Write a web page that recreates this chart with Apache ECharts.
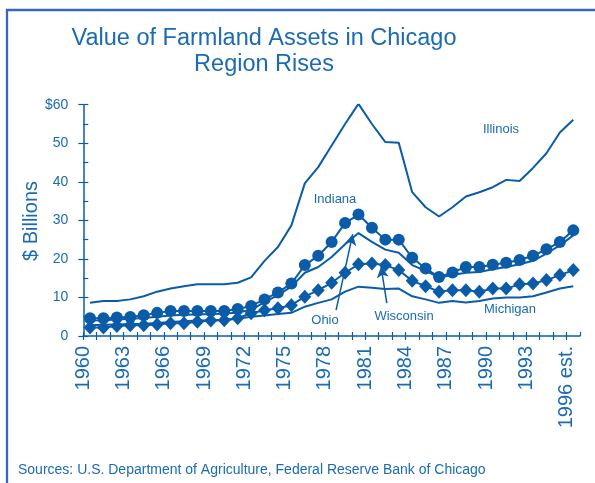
<!DOCTYPE html>
<html>
<head>
<meta charset="utf-8">
<script src="https://cdn.jsdelivr.net/npm/echarts@6/dist/echarts.min.js"></script>
<style>
  html, body { margin: 0; padding: 0; background: #fff; }
  #chart { width: 595px; height: 483px; }
</style>
</head>
<body>
<div id="chart"></div>
<script>
// years 1960 .. 1996 (1996 is an estimate)
const years = [];
for (let y = 1960; y <= 1996; y++) years.push(y);

// $ billions
const illinois = [8.6, 9.1, 9.1, 9.5, 10.3, 11.5, 12.3, 12.9, 13.4, 13.4, 13.4, 13.8, 15.2, 19.5, 23.1, 28.7, 39.6, 43.8, 49.4, 55.0, 60.2, 55.0, 50.3, 50.1, 37.3, 33.4, 31.0, 33.4, 36.2, 37.3, 38.6, 40.5, 40.2, 43.6, 47.4, 52.8, 56.1];
const indiana = [4.6, 4.6, 4.8, 4.9, 5.4, 6.0, 6.5, 6.5, 6.5, 6.5, 6.5, 7.0, 7.8, 9.5, 11.3, 13.6, 18.4, 20.8, 24.4, 29.3, 31.5, 28.1, 25.0, 25.0, 20.3, 17.5, 15.3, 16.5, 17.9, 17.9, 18.5, 19.0, 19.7, 20.8, 22.5, 24.4, 27.4];
const ohio = [4.0, 4.1, 4.3, 4.5, 4.7, 5.0, 5.3, 5.5, 5.6, 5.7, 5.8, 6.1, 6.8, 8.8, 10.6, 12.8, 16.4, 17.9, 20.5, 23.8, 26.7, 24.4, 22.4, 21.6, 18.4, 16.9, 15.2, 15.8, 16.4, 16.6, 17.3, 17.9, 18.6, 19.5, 21.4, 23.5, 26.1];
const wisconsin = [2.2, 2.2, 2.6, 2.8, 2.8, 3.0, 3.3, 3.3, 3.7, 4.0, 4.1, 4.6, 5.9, 6.7, 7.2, 8.0, 10.2, 11.9, 13.8, 16.4, 18.6, 18.8, 18.4, 17.1, 14.3, 12.9, 11.5, 11.9, 11.9, 11.5, 12.3, 12.3, 13.4, 13.6, 14.5, 15.8, 17.1];
const michigan = [2.8, 2.9, 3.0, 3.1, 3.2, 3.4, 3.6, 3.8, 4.0, 4.1, 4.2, 4.5, 5.0, 5.3, 5.7, 6.0, 7.6, 8.6, 9.5, 11.5, 12.8, 12.5, 12.2, 12.3, 10.3, 9.5, 8.6, 9.1, 8.7, 9.1, 9.7, 10.0, 10.0, 10.3, 11.3, 12.3, 12.9];

const yTicks = [0, 10, 20, 30, 40, 50, 60];
const labelEvery = 3;

const BLUE = '#0a5ca8';
const TEXT = '#1a6bb3';
const FONT = '"Liberation Sans", Arial, sans-serif';

// each year's point sits in the middle of its year band
const pts = arr => arr.map((v, i) => [years[i] + 0.5, v]);

const gridBox = { left: 83.3, right: 15, top: 104.7, bottom: 147 };

const chart = echarts.init(document.getElementById('chart'));
chart.setOption({
  animation: false,
  textStyle: { fontFamily: FONT },
  title: {
    text: 'Value of Farmland Assets in Chicago\nRegion Rises',
    left: 259,
    textAlign: 'center',
    top: 21,
    textStyle: { color: TEXT, fontSize: 23.5, fontWeight: 'normal', lineHeight: 26, fontFamily: FONT }
  },
  grid: [gridBox, gridBox],
  xAxis: [{
    type: 'value',
    gridIndex: 0,
    min: 1960,
    max: 1997,
    interval: 1,
    axisLine: { lineStyle: { color: BLUE, width: 1.5 } },
    axisTick: { length: 4, lineStyle: { color: BLUE, width: 1.2 } },
    splitLine: { show: false },
    axisLabel: {
      rotate: 90,
      margin: 10,
      color: TEXT,
      fontSize: 20,
      fontFamily: FONT,
      showMaxLabel: false,
      formatter: v => {
        if ((v - years[0]) % labelEvery !== 0) return '';
        return v === 1996 ? '1996 est.' : String(v);
      }
    }
  }, {
    type: 'value',
    gridIndex: 1,
    min: 1960,
    max: 1997,
    interval: 1,
    axisLine: { show: false },
    axisTick: { inside: true, length: 4, lineStyle: { color: BLUE, width: 1.2 } },
    axisLabel: { show: false },
    splitLine: { show: false }
  }],
  yAxis: [{
    type: 'value',
    gridIndex: 0,
    min: yTicks[0],
    max: yTicks[yTicks.length - 1],
    interval: 10,
    axisLine: { show: true, lineStyle: { color: BLUE, width: 1.5 } },
    axisTick: { show: true, length: 5, lineStyle: { color: BLUE, width: 1.2 } },
    splitLine: { show: false },
    axisLabel: {
      color: TEXT,
      fontSize: 14,
      margin: 15,
      fontFamily: FONT,
      formatter: v => v === 60 ? '$60' : String(v)
    }
  }, {
    type: 'value',
    gridIndex: 1,
    min: 0,
    max: 60,
    interval: 5,
    axisLine: { show: false },
    axisTick: { show: true, inside: true, length: 5, lineStyle: { color: BLUE, width: 1.2 } },
    axisLabel: { show: false },
    splitLine: { show: false }
  }],
  series: [
    {
      name: 'Illinois', type: 'line', data: pts(illinois),
      showSymbol: false, symbol: 'none',
      lineStyle: { color: BLUE, width: 2 }
    },
    {
      name: 'Michigan', type: 'line', data: pts(michigan),
      showSymbol: false, symbol: 'none',
      lineStyle: { color: BLUE, width: 2 }
    },
    {
      name: 'Ohio', type: 'line', data: pts(ohio),
      showSymbol: false, symbol: 'none',
      lineStyle: { color: BLUE, width: 2 }
    },
    {
      name: 'Indiana', type: 'line', data: pts(indiana),
      symbol: 'circle', symbolSize: 12,
      itemStyle: { color: BLUE },
      lineStyle: { color: BLUE, width: 2 }
    },
    {
      name: 'Wisconsin', type: 'line', data: pts(wisconsin),
      symbol: 'diamond', symbolSize: [13, 14],
      itemStyle: { color: BLUE },
      lineStyle: { color: BLUE, width: 2 },
      markLine: {
        silent: true,
        symbol: ['none', 'arrow'],
        symbolSize: [9, 11],
        label: { show: false },
        lineStyle: { color: BLUE, width: 1.5, type: 'solid' },
        data: [
          [{ coord: [1978.83, 6.7] }, { coord: [1980.07, 26.4] }],
          [{ coord: [1982.61, 8.5] }, { coord: [1982.18, 18.0] }]
        ]
      }
    }
  ],
  graphic: [
    {
      type: 'rect', silent: true, z: -1,
      shape: { x: 7, y: 10, width: 620, height: 500 },
      style: { fill: 'none', stroke: '#3768b8', lineWidth: 2.3 }
    },
    // y axis title
    { type: 'text', x: 31, y: 221, rotation: Math.PI / 2, style: { text: '$ Billions', fill: TEXT, font: '20px ' + FONT, textAlign: 'center', textVerticalAlign: 'middle' } },
    { type: 'text', x: 501, y: 129, style: { text: 'Illinois', fill: TEXT, font: '13px ' + FONT, textAlign: 'center', textVerticalAlign: 'middle' } },
    { type: 'text', x: 335, y: 199, style: { text: 'Indiana', fill: TEXT, font: '13px ' + FONT, textAlign: 'center', textVerticalAlign: 'middle' } },
    { type: 'text', x: 325, y: 320, style: { text: 'Ohio', fill: TEXT, font: '13px ' + FONT, textAlign: 'center', textVerticalAlign: 'middle' } },
    { type: 'text', x: 404, y: 316, style: { text: 'Wisconsin', fill: TEXT, font: '13px ' + FONT, textAlign: 'center', textVerticalAlign: 'middle' } },
    { type: 'text', x: 510, y: 309, style: { text: 'Michigan', fill: TEXT, font: '13px ' + FONT, textAlign: 'center', textVerticalAlign: 'middle' } },
    { type: 'text', x: 18, y: 470, style: { text: 'Sources: U.S. Department of Agriculture, Federal Reserve Bank of Chicago', fill: TEXT, font: '14px ' + FONT, textAlign: 'left', textVerticalAlign: 'middle' } }
  ]
});
</script>
</body>
</html>
